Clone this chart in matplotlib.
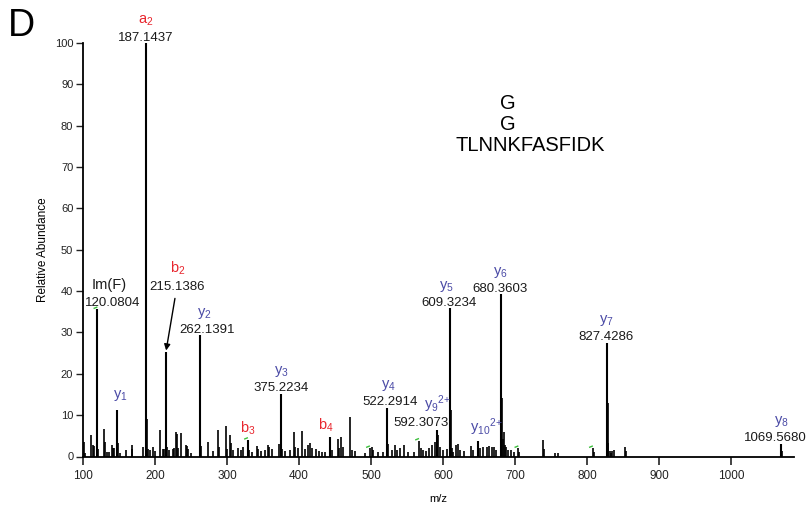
#!/usr/bin/env python3
"""MS/MS spectrum, panel D: GG-modified TLNNKFASFIDK."""
import matplotlib
matplotlib.use("Agg")
import matplotlib.pyplot as plt

plt.rcParams["font.family"] = ["Liberation Sans", "DejaVu Sans"]
plt.rcParams["mathtext.fontset"] = "custom"
plt.rcParams["mathtext.rm"] = "Liberation Sans"
plt.rcParams["mathtext.it"] = "Liberation Sans:italic"
plt.rcParams["mathtext.sf"] = "Liberation Sans"

RED = "#e8262e"
BLUE = "#4b4ba6"
GREEN = "#3cbf3c"

# annotated fragment ions
ion_mz = [120.0804, 147.11, 187.1437, 215.1386, 262.1391, 329.19, 375.2234,
          443.23, 522.2914, 592.3073, 609.3234, 649.3, 680.3603, 827.4286,
          1069.5680]
ion_int = [35.6, 11.3, 100.0, 25.3, 29.3, 4.0, 15.2, 4.7, 11.7, 6.4, 35.9,
           3.8, 39.3, 27.5, 3.0]
ion_name = ["Im(F)", r"$\mathregular{y_1}$", r"$\mathregular{a_2}$",
            r"$\mathregular{b_2}$", r"$\mathregular{y_2}$", r"$\mathregular{b_3}$",
            r"$\mathregular{y_3}$", r"$\mathregular{b_4}$", r"$\mathregular{y_4}$",
            r"$\mathregular{y_9{}^{2{+}}}$", r"$\mathregular{y_5}$",
            r"$\mathregular{y_{10}{}^{2{+}}}$", r"$\mathregular{y_6}$",
            r"$\mathregular{y_7}$", r"$\mathregular{y_8}$"]
ion_kind = ["im", "y", "a", "b", "y", "b", "y", "b", "y", "y", "y", "y", "y",
            "y", "y"]
ion_text = ["120.0804", "", "187.1437", "215.1386", "262.1391", "", "375.2234",
            "", "522.2914", "592.3073", "609.3234", "", "680.3603", "827.4286",
            "1069.5680"]

# remaining peaks
minor_mz = [101.4, 103.0, 110.6, 114.3, 115.5, 121.0, 129.2, 130.5, 134.0,
            135.5, 140.7, 141.8, 143.0, 148.6, 151.0, 159.2, 167.6, 168.6,
            183.7, 188.4, 190.7, 193.0, 196.7, 200.0, 207.3, 211.5, 213.0,
            217.0, 220.0, 225.4, 227.0, 228.6, 230.0, 231.4, 235.6, 243.0,
            245.0, 246.5, 250.0, 263.5, 273.0, 281.0, 287.5, 289.0, 298.5,
            300.0, 304.5, 306.0, 308.0, 314.8, 319.0, 322.5, 331.0, 335.0,
            342.0, 343.5, 347.0, 352.6, 357.0, 359.0, 363.0, 372.0, 376.8,
            381.0, 388.0, 393.4, 395.0, 399.0, 403.5, 408.0, 412.7, 415.0,
            418.0, 423.0, 428.0, 432.0, 436.0, 446.0, 453.6, 456.0, 459.0,
            461.5, 470.8, 473.0, 478.0, 491.0, 498.6, 501.0, 503.0, 510.0,
            516.0, 524.0, 528.5, 533.0, 535.5, 540.0, 546.0, 551.0, 560.0,
            566.8, 569.0, 572.0, 577.0, 581.0, 585.0, 588.6, 593.6, 596.0,
            600.0, 606.0, 610.8, 612.0, 614.0, 617.7, 621.0, 624.0, 629.0,
            639.5, 642.0, 651.0, 656.0, 661.0, 664.0, 667.6, 671.0, 674.0,
            681.5, 683.0, 684.2, 685.5, 688.0, 690.5, 694.0, 698.0, 704.8,
            706.0, 739.5, 741.0, 755.5, 760.0, 808.3, 810.0, 828.6, 829.8,
            832.0, 833.5, 835.0, 837.0, 852.8, 854.0, 1070.6]
minor_int = [3.4, 0.8, 5.2, 2.8, 2.5, 1.9, 6.6, 3.6, 1.2, 1.2, 2.8, 2.1, 2.0,
             3.2, 0.8, 1.5, 2.7, 1.7, 2.3, 9.1, 1.7, 1.5, 2.3, 1.3, 6.4, 1.9,
             1.8, 2.3, 1.5, 1.7, 2.0, 6.0, 5.4, 2.0, 5.7, 2.8, 2.6, 1.9, 0.8,
             2.6, 3.6, 1.3, 6.4, 2.4, 7.4, 1.9, 5.2, 3.2, 1.6, 2.0, 1.5, 2.3,
             1.5, 1.0, 2.5, 1.7, 1.4, 1.6, 2.9, 2.3, 1.7, 3.0, 1.9, 1.3, 1.6,
             5.9, 2.3, 2.0, 6.2, 1.7, 2.9, 3.3, 2.0, 1.7, 1.4, 1.2, 1.2, 1.5,
             4.3, 2.0, 4.6, 2.3, 9.6, 1.5, 1.3, 0.8, 2.0, 2.3, 1.6, 1.2, 1.0,
             3.0, 1.6, 2.8, 1.6, 2.0, 2.9, 1.0, 1.2, 3.8, 2.0, 1.6, 1.3, 2.0,
             2.8, 3.5, 5.2, 2.4, 1.6, 1.8, 11.3, 2.0, 1.2, 2.9, 3.1, 1.6, 1.3,
             2.6, 1.6, 2.0, 2.4, 2.2, 2.6, 2.2, 2.2, 1.6, 14.1, 4.2, 6.0, 2.8,
             2.2, 1.6, 1.6, 1.2, 2.0, 1.2, 3.9, 1.7, 0.9, 0.8, 2.0, 1.2, 12.9,
             3.3, 1.3, 0.9, 1.3, 1.5, 2.2, 1.4, 1.3]

# peaks carrying a small green match flag
flag_mz = [120.0804, 329.19, 498.6, 566.8, 704.8, 808.3]
flag_int = [35.6, 4.0, 2.0, 3.8, 2.0, 2.0]

# label placement in pixels: (number dx, number dy, ion dx, ion dy-above-number)
label_pos = {
    "120.0804": (15, 3, 12, 17),
    "187.1437": (0, 2, 0, 17),
    "215.1386": (11, 62, 12, 17),
    "262.1391": (7, 2, 5, 17),
    "375.2234": (0, 3, 0, 17),
    "522.2914": (3, 3, 1, 17),
    "592.3073": (-16, 4, 0, 17),
    "609.3234": (-1, 2, -3, 17),
    "680.3603": (-1, 2, 0, 17),
    "827.4286": (-1, 3, 0, 17),
    "1069.5680": (-6, 3, 0, 17),
}
solo_pos = {147.11: (3, 7), 329.19: (0, 3), 443.23: (-4, 3), 649.3: (8, 3)}

fig = plt.figure(figsize=(8.06, 5.08), dpi=100)
ax = fig.add_axes([83 / 806, 51.5 / 508, 710.6 / 806, 413.5 / 508])

ax.vlines(minor_mz, 0, minor_int, color="black", lw=1.2)
ax.vlines(ion_mz, 0, ion_int, color="black", lw=1.5)
for m, h in zip(flag_mz, flag_int):
    ax.plot([m - 4.5, m - 1.0], [h + 0.25, h + 0.5], color=GREEN, lw=1.0)

num_kw = dict(fontsize=9.5, color="#1a1a1a", ha="center", va="baseline",
              textcoords="offset pixels")
for m, h, name, kind, txt in zip(ion_mz, ion_int, ion_name, ion_kind, ion_text):
    col = {"im": "#1a1a1a", "a": RED, "b": RED, "y": BLUE}[kind]
    if txt:
        ndx, ndy, idx, idy = label_pos[txt]
        if txt == "215.1386":
            ax.annotate(txt, xy=(m, h), xytext=(ndx, ndy),
                        arrowprops=dict(arrowstyle="-|>", color="black", lw=1.0,
                                        mutation_scale=9, shrinkA=2, shrinkB=1),
                        **num_kw)
        else:
            ax.annotate(txt, xy=(m, h), xytext=(ndx, ndy), **num_kw)
        ax.annotate(name, xy=(m, h), xytext=(idx, ndy + idy), fontsize=10.5,
                    color=col, ha="center", va="baseline",
                    textcoords="offset pixels")
    else:
        dx, dy = solo_pos[m]
        ax.annotate(name, xy=(m, h), xytext=(dx, dy), fontsize=10.5, color=col,
                    ha="center", va="bottom", textcoords="offset pixels")

# peptide sequence with the GG remnant on K
ax.text(0.5975, 0.8545, "G", transform=ax.transAxes, fontsize=14.5,
        ha="center", va="center")
ax.text(0.5975, 0.8035, "G", transform=ax.transAxes, fontsize=14.5,
        ha="center", va="center")
ax.text(0.629, 0.7525, "TLNNKFASFIDK", transform=ax.transAxes, fontsize=14.5,
        ha="center", va="center")

ax.set_xlim(100, 1087)
ax.set_ylim(0, 100)
ax.set_xticks(range(100, 1001, 100))
ax.set_yticks(range(0, 101, 10))
for s in ("top", "right"):
    ax.spines[s].set_visible(False)
for s in ("left", "bottom"):
    ax.spines[s].set_linewidth(1.3)
ax.tick_params(axis="x", length=6, width=1.2, labelsize=8.5, pad=4,
               colors="#222222")
ax.tick_params(axis="y", length=5, width=1.0, labelsize=8, pad=2,
               colors="#222222")
ax.set_ylabel("Relative Abundance", fontsize=8.5, labelpad=4)
ax.set_xlabel("m/z", fontsize=8, labelpad=8)

fig.text(8 / 806, 1 - 26 / 508, "D", fontsize=27, va="center", ha="left")

fig.savefig("out.png", dpi=100)
